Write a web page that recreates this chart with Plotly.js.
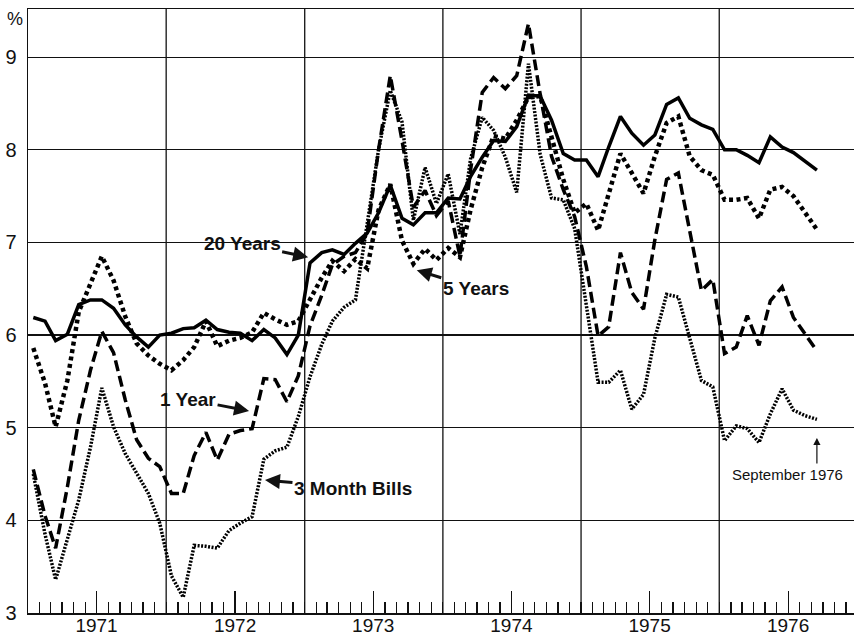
<!DOCTYPE html>
<html>
<head>
<meta charset="utf-8">
<script src="https://cdn.plot.ly/plotly-3.0.1.min.js"></script>
<style>
  html, body { margin: 0; padding: 0; background: #fff; }
  #chart { width: 854px; height: 635px; }
</style>
</head>
<body>
<div id="chart"></div>
<script>
// ---- Data (monthly, Jan 1971 - Sep 1976), percent ----
const startYear = 1971;
const yearLabels = ["1971", "1972", "1973", "1974", "1975", "1976"];

const twentyYears = [
  6.19, 6.15, 5.94, 6.01, 6.33, 6.38, 6.38, 6.29, 6.11, 5.98, 5.87, 6.00,
  6.02, 6.07, 6.08, 6.16, 6.06, 6.03, 6.02, 5.94, 6.06, 5.97, 5.79, 6.00,
  6.78, 6.89, 6.92, 6.87, 6.99, 7.10, 7.32, 7.62, 7.26, 7.19, 7.32, 7.32,
  7.48, 7.47, 7.71, 7.92, 8.10, 8.09, 8.25, 8.59, 8.58, 8.32, 7.96, 7.89,
  7.89, 7.71, 8.03, 8.36, 8.18, 8.05, 8.16, 8.49, 8.56, 8.34, 8.27, 8.22,
  8.00, 8.00, 7.94, 7.86, 8.14, 8.03, 7.97, 7.88, 7.78
];

const fiveYears = [
  5.86, 5.48, 5.01, 5.51, 6.25, 6.56, 6.85, 6.59, 6.20, 5.91, 5.78, 5.69,
  5.62, 5.73, 5.87, 6.15, 5.88, 5.94, 5.97, 6.03, 6.24, 6.17, 6.11, 6.15,
  6.38, 6.62, 6.80, 6.69, 6.82, 6.72, 7.35, 7.63, 7.02, 6.77, 6.93, 6.81,
  6.94, 6.84, 7.35, 7.81, 8.15, 8.12, 8.32, 8.57, 8.58, 8.15, 7.68, 7.32,
  7.42, 7.13, 7.53, 7.96, 7.75, 7.53, 7.93, 8.29, 8.36, 7.93, 7.78, 7.73,
  7.46, 7.46, 7.48, 7.26, 7.57, 7.60, 7.50, 7.32, 7.14
];

const oneYear = [
  4.55, 4.05, 3.70, 4.36, 5.08, 5.62, 6.04, 5.81, 5.30, 4.87, 4.67, 4.58,
  4.29, 4.29, 4.70, 4.95, 4.65, 4.93, 4.97, 4.99, 5.53, 5.52, 5.28, 5.56,
  6.10, 6.43, 6.76, 6.85, 6.89, 7.10, 8.00, 8.80, 8.10, 7.38, 7.56, 7.29,
  7.45, 6.85, 7.78, 8.62, 8.78, 8.66, 8.80, 9.36, 8.60, 7.93, 7.57, 7.28,
  6.74, 5.99, 6.09, 6.89, 6.46, 6.28, 7.03, 7.68, 7.75, 7.13, 6.48, 6.60,
  5.80, 5.87, 6.21, 5.89, 6.37, 6.52, 6.19, 6.01, 5.83
];

const threeMonthBills = [
  4.50, 3.85, 3.36, 3.79, 4.22, 4.79, 5.43, 5.01, 4.72, 4.51, 4.29, 3.97,
  3.40, 3.17, 3.73, 3.72, 3.70, 3.89, 3.97, 4.04, 4.66, 4.75, 4.79, 5.12,
  5.55, 5.90, 6.15, 6.30, 6.38, 7.20, 8.00, 8.64, 8.30, 7.24, 7.81, 7.42,
  7.74, 7.09, 7.90, 8.35, 8.21, 7.92, 7.54, 8.93, 7.95, 7.48, 7.46, 7.15,
  6.30, 5.49, 5.49, 5.62, 5.20, 5.36, 5.97, 6.44, 6.41, 5.96, 5.51, 5.44,
  4.86, 5.02, 4.99, 4.84, 5.15, 5.42, 5.19, 5.13, 5.09
];

const yTicks = [3, 4, 5, 6, 7, 8, 9];

// month dates (mid-month) for each observation
const months = twentyYears.map((_, i) => {
  const y = startYear + Math.floor(i / 12);
  const m = (i % 12) + 1;
  return y + "-" + String(m).padStart(2, "0") + "-15";
});
const midYears = yearLabels.map(y => y + "-07-01");
const yearBoundaries = yearLabels.slice(1).map(y => y + "-01-01");

const FONT = "Liberation Sans, Arial, Helvetica, sans-serif";

const traces = [
  { x: months, y: threeMonthBills, mode: "lines", name: "3 Month Bills",
    line: { color: "#000", width: 3.5, dash: "2px,1.5px" } },
  { x: months, y: oneYear, mode: "lines", name: "1 Year",
    line: { color: "#000", width: 3.5, dash: "11px,5px" } },
  { x: months, y: fiveYears, mode: "lines", name: "5 Years",
    line: { color: "#000", width: 4.5, dash: "4px,3.5px" } },
  { x: months, y: twentyYears, mode: "lines", name: "20 Years",
    line: { color: "#000", width: 3.5 } }
];

const xRange = ["1971-01-01", "1976-12-22"];

const yearLines = yearBoundaries.map(d => ({
  type: "line", xref: "x", yref: "paper", x0: d, x1: d, y0: 0, y1: 1,
  layer: "below", line: { color: "#111", width: 1.3 }
}));

const layout = {
  width: 854, height: 635,
  margin: { l: 28, r: 0, t: 9, b: 22 },
  paper_bgcolor: "#fff", plot_bgcolor: "#fff",
  showlegend: false,
  font: { family: FONT, color: "#111", size: 20 },
  xaxis: {
    type: "date", range: xRange,
    tickmode: "array", tickvals: midYears, ticktext: yearLabels,
    ticks: "inside", ticklen: 22, tickwidth: 1.2, tickcolor: "#111",
    showgrid: false, zeroline: false,
    showline: true, linecolor: "#111", linewidth: 1.5, mirror: true,
    ticklabelstandoff: -5,
    tickfont: { family: FONT, size: 19, color: "#111" },
    minor: { dtick: "M1", tick0: "1971-01-01", ticks: "inside", ticklen: 11,
             tickwidth: 1.2, tickcolor: "#111", showgrid: false }
  },
  yaxis: {
    range: [3, 9.52], tickmode: "array", tickvals: yTicks,
    ticks: "", showgrid: true, gridcolor: "#111", gridwidth: 1.2,
    zeroline: false, showline: true, linecolor: "#111", linewidth: 1.5,
    ticklabelstandoff: 6,
    tickfont: { family: FONT, size: 20, color: "#111" }
  },
  shapes: yearLines,
  annotations: [
    { xref: "paper", yref: "paper", x: -0.016, y: 0.983, xanchor: "center", yanchor: "middle",
      text: "%", showarrow: false, font: { family: FONT, size: 18, color: "#111" } },
    { x: "1973-01-10", y: 6.84, xref: "x", yref: "y", text: "<b>20 Years</b>",
      showarrow: true, arrowhead: 2, arrowsize: 1, arrowwidth: 3, arrowcolor: "#111",
      ax: -66, ay: -14, font: { family: FONT, size: 19, color: "#111" } },
    { x: "1973-10-24", y: 6.70, xref: "x", yref: "y", text: "<b>5 Years</b>",
      showarrow: true, arrowhead: 2, arrowsize: 1, arrowwidth: 3, arrowcolor: "#111",
      ax: 59, ay: 18, font: { family: FONT, size: 19, color: "#111" } },
    { x: "1972-08-07", y: 5.18, xref: "x", yref: "y", text: "<b>1 Year</b>",
      showarrow: true, arrowhead: 2, arrowsize: 1, arrowwidth: 3, arrowcolor: "#111",
      ax: -61, ay: -12, font: { family: FONT, size: 19, color: "#111" } },
    { x: "1972-09-18", y: 4.435, xref: "x", yref: "y", text: "<b>3 Month Bills</b>",
      showarrow: true, arrowhead: 2, arrowsize: 1, arrowwidth: 3, arrowcolor: "#111",
      ax: 88, ay: 8, font: { family: FONT, size: 19, color: "#111" } },
    { x: "1976-09-15", y: 4.89, xref: "x", yref: "y", text: "",
      showarrow: true, arrowhead: 2, arrowsize: 1.2, arrowwidth: 1.2, arrowcolor: "#111",
      ax: 0, ay: 27 },
    { x: "1976-09-15", y: 4.89, xref: "x", yref: "y", text: "September 1976",
      showarrow: false, xshift: -29, yshift: -37,
      font: { family: FONT, size: 15, color: "#111" } }
  ]
};

Plotly.newPlot("chart", traces, layout, { staticPlot: true, displayModeBar: false });
</script>
</body>
</html>
